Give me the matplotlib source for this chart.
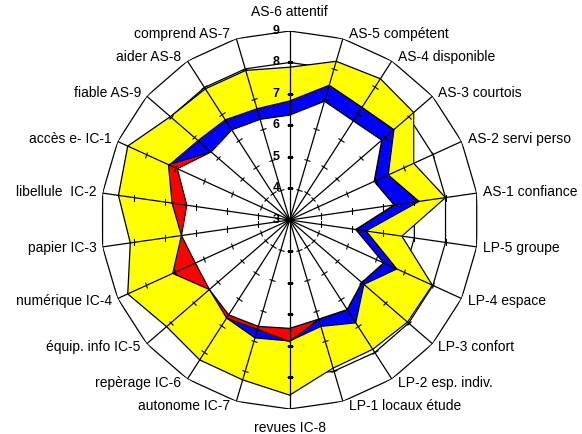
import numpy as np
import matplotlib.pyplot as plt
from matplotlib.markers import MarkerStyle
from matplotlib.transforms import Affine2D

plt.rcParams['font.family'] = ['Liberation Sans', 'DejaVu Sans']

categories = ["AS-6 attentif", "AS-5 compétent", "AS-4 disponible", "AS-3 courtois",
              "AS-2 servi perso", "AS-1 confiance", "LP-5 groupe", "LP-4 espace",
              "LP-3 confort", "LP-2 esp. indiv.", "LP-1 locaux étude", "revues IC-8",
              "autonome IC-7", "repèrage IC-6", "équip. info IC-5", "numérique IC-4",
              "papier IC-3", "libellule  IC-2", "accès e- IC-1", "fiable AS-9",
              "aider AS-8", "comprend AS-7"]

# series, drawn back to front
yellow = [7.85, 8.25, 8.33, 8.21, 7.33, 8.00, 6.60, 7.98, 7.95, 7.88, 7.90, 8.56,
          8.29, 8.28, 8.17, 8.65, 8.11, 8.49, 8.65, 8.01, 7.95, 7.95]
blue = [6.78, 7.46, 7.25, 7.38, 6.44, 7.15, 5.45, 6.74, 6.12, 6.88, 6.52, 6.84,
        6.90, 6.70, 6.30, 6.30, 6.40, 6.30, 7.20, 6.85, 6.78, 6.68]
red = [6.33, 6.93, 6.74, 6.87, 5.95, 6.35, 5.12, 6.28, 6.03, 6.38, 6.28, 6.86,
       6.62, 6.70, 6.37, 7.08, 6.47, 6.77, 7.23, 6.30, 6.40, 6.33]
white = [6.33, 6.93, 6.74, 6.87, 5.95, 6.35, 5.12, 6.28, 6.03, 6.38, 6.28, 6.44,
         6.52, 6.58, 6.37, 6.29, 6.47, 6.30, 6.92, 6.30, 6.40, 6.33]

levels = [3, 4, 5, 6, 7, 8, 9]

n = len(categories)
theta = np.arange(n) * 2 * np.pi / n
tc = np.append(theta, theta[0])

def closed(v):
    return np.append(v, v[0])

fig = plt.figure(figsize=(5.82, 4.34), dpi=100)
ax = fig.add_axes([0.1729, 0.0576, 0.6495, 0.871], projection='polar')
ax.set_theta_zero_location('N')
ax.set_theta_direction(-1)
ax.set_ylim(3, 9)
ax.grid(False)
for sp in ax.spines.values():
    sp.set_visible(False)
ax.set_xticks([])
ax.set_yticks([])

# polygon gridlines (behind the filled series)
for lv in levels[1:]:
    ax.plot(tc, [lv] * (n + 1), color='black', lw=0.9, zorder=1)

for vals, col, z in [(yellow, '#FFFF00', 2), (blue, '#0000FF', 3),
                     (red, '#FF0000', 4), (white, 'white', 5)]:
    ax.fill(tc, closed(vals), facecolor=col, edgecolor='black', lw=0.9, zorder=z)

# spokes with tick marks
for i, t in enumerate(theta):
    ax.plot([t, t], [3, 9], color='black', lw=0.9, zorder=6)
    deg = np.degrees(t)
    mk = MarkerStyle('_', transform=Affine2D().rotate_deg(-deg))
    ax.plot([t] * 5, levels[1:-1], linestyle='none', marker=mk, ms=4.5,
            mec='black', mew=0.8, zorder=6)

# value labels on the top spoke
for lv in levels:
    ax.annotate(str(lv), xy=(0, lv), xytext=(-10, 0), textcoords='offset pixels',
                ha='right', va='center', fontsize=9, fontweight='bold',
                zorder=7, annotation_clip=False)

# category labels
for t, lab in zip(theta, categories):
    s, c = np.sin(t), np.cos(t)
    if abs(s) < 0.1:
        ha = 'center'
        va = 'bottom' if c > 0 else 'top'
        off = (0, 12 if c > 0 else -12)
    else:
        ha = 'left' if s > 0 else 'right'
        va = 'center'
        off = (6 if s > 0 else -6, 5 * c)
    ax.annotate(lab, xy=(t, 9), xytext=off, textcoords='offset pixels',
                ha=ha, va=va, fontsize=10, annotation_clip=False)

fig.savefig('out.png', dpi=100)
